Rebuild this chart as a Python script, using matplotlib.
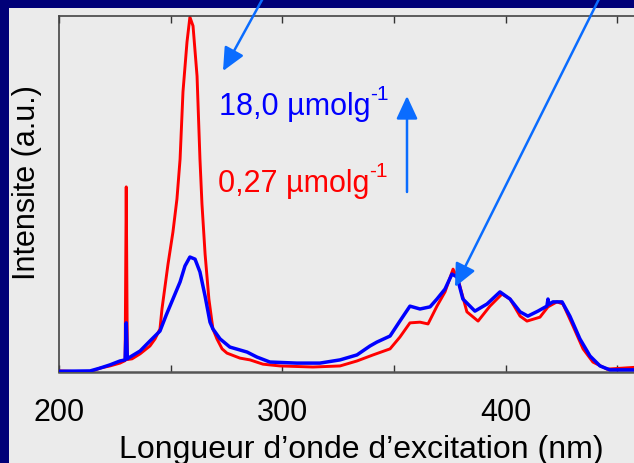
import numpy as np
import matplotlib
matplotlib.use('Agg')
from matplotlib import pyplot as plt
from matplotlib.patches import Rectangle

plt.rcParams['font.family'] = ['Liberation Sans', 'DejaVu Sans']

# spectre d'excitation, 0,27 umol/g (rouge)
lam_rouge = [200.0, 213.9, 218.4, 222.8, 227.3, 229.6, 230.1, 230.6, 232.7, 236.3,
             240.7, 243.0, 245.2, 246.1, 248.8, 251.0, 252.8, 254.2, 255.5, 257.3,
             258.6, 260.0, 261.8, 263.1, 264.0, 265.4, 267.1, 268.9, 270.7, 273.0,
             275.2, 281.0, 285.5, 291.3, 298.9, 313.7, 325.8, 333.4, 340.6, 348.2,
             352.6, 357.1, 361.6, 365.2, 369.2, 372.8, 376.4, 378.6, 382.6, 387.6,
             392.9, 398.3, 401.9, 406.4, 409.5, 415.3, 418.9, 422.9, 425.6, 430.1,
             434.6, 439.0, 445.3, 460.0]
int_rouge = [0.003, 0.000, 0.011, 0.017, 0.025, 0.032, 0.520, 0.035, 0.037, 0.051,
             0.073, 0.093, 0.121, 0.177, 0.303, 0.393, 0.486, 0.598, 0.787, 0.927,
             0.997, 0.972, 0.831, 0.598, 0.472, 0.331, 0.205, 0.121, 0.093, 0.065,
             0.053, 0.039, 0.034, 0.022, 0.017, 0.014, 0.017, 0.031, 0.048, 0.065,
             0.098, 0.138, 0.140, 0.135, 0.185, 0.225, 0.289, 0.261, 0.169, 0.143,
             0.185, 0.219, 0.205, 0.157, 0.143, 0.154, 0.183, 0.197, 0.191, 0.129,
             0.065, 0.028, 0.008, 0.014]

# spectre d'excitation, 18,0 umol/g (bleu)
lam_bleu = [200.0, 213.9, 218.4, 222.8, 227.3, 229.6, 230.1, 230.6, 231.8, 236.3,
            240.7, 245.2, 248.0, 251.0, 254.2, 256.4, 258.6, 260.9, 263.1, 265.4,
            267.6, 268.9, 272.1, 276.5, 284.2, 288.6, 294.4, 306.5, 316.8, 325.8,
            333.4, 339.2, 342.3, 348.2, 352.6, 357.1, 361.6, 366.1, 369.2, 372.8,
            375.9, 378.2, 380.8, 386.2, 391.6, 397.4, 401.9, 406.4, 409.9, 414.4,
            418.4, 418.9, 419.3, 421.1, 425.2, 428.7, 433.2, 437.7, 442.2, 446.6,
            460.0]
int_bleu = [0.002, 0.003, 0.011, 0.020, 0.031, 0.034, 0.138, 0.037, 0.042, 0.059,
            0.087, 0.115, 0.160, 0.205, 0.253, 0.298, 0.323, 0.317, 0.281, 0.213,
            0.140, 0.121, 0.093, 0.070, 0.056, 0.042, 0.028, 0.025, 0.025, 0.034,
            0.048, 0.073, 0.084, 0.101, 0.143, 0.185, 0.177, 0.183, 0.205, 0.233,
            0.275, 0.267, 0.205, 0.171, 0.191, 0.225, 0.205, 0.169, 0.157, 0.171,
            0.185, 0.205, 0.190, 0.197, 0.197, 0.157, 0.093, 0.045, 0.017, 0.006,
            0.006]

graduations = [200, 250, 300, 350, 400, 450]
etiquettes = ['200', '', '300', '', '400', '']

W, H = 634, 464
fond = '#000078'
panneau = '#EBEBEB'
fleche = '#0A6CFF'

fig = plt.figure(figsize=(W / 100, H / 100), dpi=100, facecolor=fond)
fig.patches.append(Rectangle((9 / W, 0), 1, 1 - 9 / H, transform=fig.transFigure,
                             facecolor=panneau, edgecolor='none', zorder=-10))

ax = fig.add_axes([59 / W, 91 / H, 580.8 / W, 356 / H])
ax.set_facecolor(panneau)
ax.plot(lam_rouge, int_rouge, color='#FF0000', lw=2.1, zorder=2,
        solid_joinstyle='round')
ax.plot(lam_bleu, int_bleu, color='#0000FF', lw=2.5, zorder=3,
        solid_joinstyle='round')
ax.set_xlim(200, 460)
ax.set_ylim(0, 1.0)
ax.set_xticks(graduations)
ax.set_xticklabels(etiquettes)
ax.set_yticks([])
ax.tick_params(axis='x', direction='in', length=5, width=1, color='#333333',
               top=True, labelsize=22, pad=18)
for s in ax.spines.values():
    s.set_color('#444444')
    s.set_linewidth(1.2)
ax.spines['bottom'].set_linewidth(1.8)
ax.spines['bottom'].set_color('#555555')

fig.text(27 / W, 1 - 183 / H, 'Intensite (a.u.)', rotation=90, ha='center', va='center',
         fontsize=22, color='black')
fig.text(361 / W, 1 - 458 / H, 'Longueur d\u2019onde d\u2019excitation (nm)', ha='center',
         va='baseline', fontsize=23, color='black')

# concentrations
fig.text(219 / W, 1 - 115 / H, '18,0 \u00b5molg', fontsize=22, color='#0000FF', va='baseline')
fig.text(370 / W, 1 - 100 / H, '-1', fontsize=15, color='#0000FF', va='baseline')
fig.text(218 / W, 1 - 192 / H, '0,27 \u00b5molg', fontsize=22, color='#FF0000', va='baseline')
fig.text(369 / W, 1 - 177 / H, '-1', fontsize=15, color='#FF0000', va='baseline')

style = dict(arrowstyle='-|>,head_length=1.4,head_width=0.65', mutation_scale=10,
             lw=1.8, color=fleche, shrinkA=0, shrinkB=0)


def px(x, y):
    return (x / W, 1 - y / H)


ax.annotate('', xy=px(223, 72), xycoords='figure fraction', xytext=px(268, -10),
            textcoords='figure fraction', arrowprops=style, annotation_clip=False)
ax.annotate('', xy=px(455, 288), xycoords='figure fraction', xytext=px(604, -10),
            textcoords='figure fraction', arrowprops=style, annotation_clip=False)
ax.annotate('', xy=px(407, 97), xycoords='figure fraction', xytext=px(407, 193),
            textcoords='figure fraction', arrowprops=style, annotation_clip=False)

fig.savefig('out.png', dpi=100, facecolor=fond)
